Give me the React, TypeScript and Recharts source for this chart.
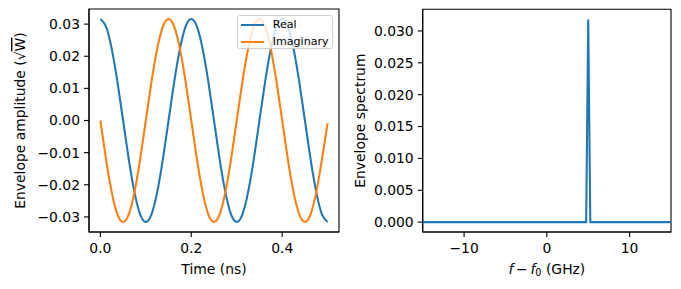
import React from 'react';
import { LineChart, Line, XAxis, YAxis, Legend, Label, ReferenceArea } from 'recharts';

const times = [0, 0.0125, 0.025, 0.0375, 0.05, 0.0625, 0.075, 0.0875, 0.1, 0.1125, 0.125, 0.1375, 0.15, 0.1625, 0.175, 0.1875,
  0.2, 0.2125, 0.225, 0.2375, 0.25, 0.2625, 0.275, 0.2875, 0.3, 0.3125, 0.325, 0.3375, 0.35, 0.3625, 0.375, 0.3875,
  0.4, 0.4125, 0.425, 0.4375, 0.45, 0.4625, 0.475, 0.4875, 0.5];
const realValues = [0.0316, 0.0292, 0.0223, 0.0121, 0, -0.0121, -0.0223, -0.0292, -0.0316, -0.0292, -0.0223, -0.0121, 0, 0.0121, 0.0223, 0.0292,
  0.0316, 0.0292, 0.0223, 0.0121, 0, -0.0121, -0.0223, -0.0292, -0.0316, -0.0292, -0.0223, -0.0121, 0, 0.0121, 0.0223, 0.0292,
  0.0316, 0.0292, 0.0223, 0.0121, 0, -0.0121, -0.0223, -0.0292, -0.0316];
const imagValues = [0, -0.0121, -0.0223, -0.0292, -0.0316, -0.0292, -0.0223, -0.0121, 0, 0.0121, 0.0223, 0.0292, 0.0316, 0.0292, 0.0223, 0.0121,
  0, -0.0121, -0.0223, -0.0292, -0.0316, -0.0292, -0.0223, -0.0121, 0, 0.0121, 0.0223, 0.0292, 0.0316, 0.0292, 0.0223, 0.0121,
  0, -0.0121, -0.0223, -0.0292, -0.0316, -0.0292, -0.0223, -0.0121, -0.0008];

const freqs = [-15, 4.75, 5.0, 5.25, 15];
const spectrumValues = [0, 0, 0.0318, 0, 0];

const timeTicks = [0, 0.2, 0.4];
const ampTicks = [-0.03, -0.02, -0.01, 0, 0.01, 0.02, 0.03];
const freqTicks = [-10, 0, 10];
const specTicks = [0, 0.005, 0.01, 0.015, 0.02, 0.025, 0.03];

const timeDomain: [number, number] = [-0.025, 0.525];
const ampDomain: [number, number] = [-0.0347, 0.0347];
const freqDomain: [number, number] = [-15, 15];
const specDomain: [number, number] = [-0.00155, 0.0334];

const timeData = times.map((t, i) => ({ t, real: realValues[i], imag: imagValues[i] }));
const specData = freqs.map((f, i) => ({ f, s: spectrumValues[i] }));

const FONT = 'DejaVu Sans';
const FS = 13.9;
const BLUE = '#1f77b4';
const ORANGE = '#ff7f0e';

const fmt = (d: number) => (v: number) => v.toFixed(d).replace('-', '\u2212');
const tickStyle = { fill: '#000', fontSize: FS, fontFamily: FONT };
const axisLine = { stroke: '#000', strokeWidth: 1.1 };
const tickLine = { stroke: '#000', strokeWidth: 1.1 };

const LegendBox = () => (
  <div style={{
    border: '1px solid #d0d0d0', borderRadius: 3, background: 'rgba(255,255,255,0.8)',
    width: 94, height: 32, fontFamily: FONT, fontSize: 11.1, color: '#000', boxSizing: 'content-box',
  }}>
    {[{ name: 'Real', c: BLUE }, { name: 'Imaginary', c: ORANGE }].map((it) => (
      <div key={it.name} style={{ display: 'flex', alignItems: 'center', height: 17 }}>
        <div style={{ marginLeft: 3, width: 23, height: 2, background: it.c }} />
        <span style={{ marginLeft: 9, lineHeight: '17px' }}>{it.name}</span>
      </div>
    ))}
  </div>
);

const YLabelLeft = (props: any) => {
  const { viewBox } = props;
  const cx = viewBox.x - 9;
  const cy = viewBox.y + viewBox.height / 2;
  return (
    <text x={cx} y={cy} transform={`rotate(-90 ${cx} ${cy})`} textAnchor="middle" dominantBaseline="central"
      fontFamily={FONT} fontSize={FS} fill="#000">
      Envelope amplitude (√<tspan style={{ textDecoration: 'overline' }}>W</tspan>)
    </text>
  );
};

const YLabelRight = (props: any) => {
  const { viewBox } = props;
  const cx = viewBox.x - 3;
  const cy = viewBox.y + viewBox.height / 2;
  return (
    <text x={cx} y={cy} transform={`rotate(-90 ${cx} ${cy})`} textAnchor="middle" dominantBaseline="central"
      fontFamily={FONT} fontSize={FS} fill="#000">
      Envelope spectrum
    </text>
  );
};

const XLabelLeft = (props: any) => {
  const { viewBox } = props;
  return (
    <text x={viewBox.x + viewBox.width / 2} y={viewBox.y + 36.5} textAnchor="middle" dominantBaseline="central"
      fontFamily={FONT} fontSize={FS} fill="#000">Time (ns)</text>
  );
};

const XLabelRight = (props: any) => {
  const { viewBox } = props;
  return (
    <text x={viewBox.x + viewBox.width / 2} y={viewBox.y + 36.5} textAnchor="middle" dominantBaseline="central"
      fontFamily={FONT} fontSize={FS} fill="#000">
      <tspan fontStyle="italic">f</tspan>
      <tspan>{'\u2009\u2212\u2009'}</tspan>
      <tspan fontStyle="italic">f</tspan>
      <tspan fontSize={FS * 0.7} dy={3}>0</tspan>
      <tspan dy={-3}> (GHz)</tspan>
    </text>
  );
};

export default function App() {
  return (
    <div style={{ position: 'absolute', left: 0, top: 0, width: 681, height: 289, background: '#fff' }}>
      <div style={{ position: 'absolute', left: 0, top: 0 }}>
        <LineChart width={340} height={289} data={timeData} margin={{ left: 29, right: 1, top: 9, bottom: 27 }}>
          <XAxis dataKey="t" type="number" domain={timeDomain} ticks={timeTicks} tickFormatter={fmt(1)}
            allowDataOverflow height={30} tick={tickStyle} axisLine={axisLine} tickLine={tickLine} tickSize={5} tickMargin={6.5}>
            <Label content={XLabelLeft} />
          </XAxis>
          <YAxis type="number" domain={ampDomain} ticks={ampTicks} tickFormatter={fmt(2)} allowDataOverflow
            width={60} tick={tickStyle} axisLine={axisLine} tickLine={tickLine} tickSize={5} tickMargin={4}>
            <Label content={YLabelLeft} />
          </YAxis>
          <ReferenceArea x1={timeDomain[0]} x2={timeDomain[1]} y1={ampDomain[0]} y2={ampDomain[1]}
            fill="none" fillOpacity={0} stroke="#000" strokeWidth={1.1} strokeOpacity={1} />
          <Legend layout="vertical" align="center" verticalAlign="middle" content={LegendBox}
            wrapperStyle={{ top: 15, left: 236.7, width: 96, height: 34 }} />
          <Line dataKey="real" name="Real" type="natural" stroke={BLUE} strokeWidth={2.08} dot={false} isAnimationActive={false} />
          <Line dataKey="imag" name="Imaginary" type="natural" stroke={ORANGE} strokeWidth={2.08} dot={false} isAnimationActive={false} />
        </LineChart>
      </div>
      <div style={{ position: 'absolute', left: 340, top: 0 }}>
        <LineChart width={341} height={289} data={specData} margin={{ left: 22.7, right: 10, top: 9.3, bottom: 27 }}>
          <XAxis dataKey="f" type="number" domain={freqDomain} ticks={freqTicks} tickFormatter={fmt(0)}
            allowDataOverflow height={30} tick={tickStyle} axisLine={axisLine} tickLine={tickLine} tickSize={5} tickMargin={6.5}>
            <Label content={XLabelRight} />
          </XAxis>
          <YAxis type="number" domain={specDomain} ticks={specTicks} tickFormatter={fmt(3)} allowDataOverflow
            width={60} tick={tickStyle} axisLine={axisLine} tickLine={tickLine} tickSize={5} tickMargin={4}>
            <Label content={YLabelRight} />
          </YAxis>
          <ReferenceArea x1={freqDomain[0]} x2={freqDomain[1]} y1={specDomain[0]} y2={specDomain[1]}
            fill="none" fillOpacity={0} stroke="#000" strokeWidth={1.1} strokeOpacity={1} />
          <Line dataKey="s" type="linear" stroke={BLUE} strokeWidth={2.08} dot={false} isAnimationActive={false} />
        </LineChart>
      </div>
    </div>
  );
}
